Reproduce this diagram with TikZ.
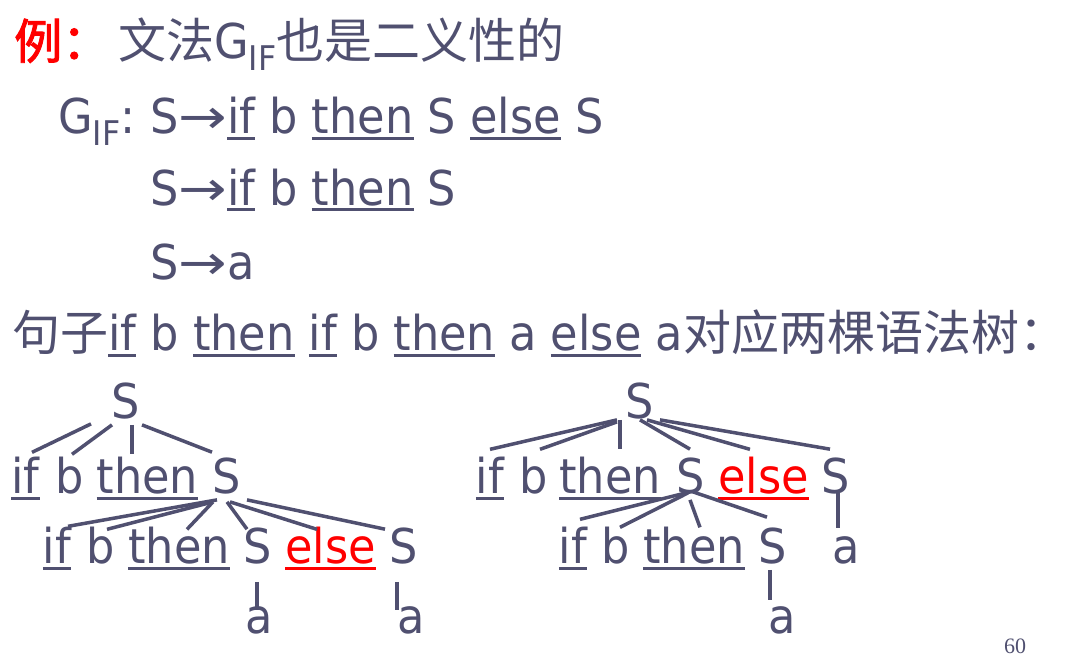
\documentclass[tikz,border=0pt]{standalone}
\usepackage{fontspec}
\usepackage{graphicx}
\setmainfont[FakeStretch=0.93]{DejaVu Sans}
\newfontfamily\cjk{Noto Sans CJK SC}
\newfontfamily\cjkbold[FakeBold=2]{Noto Sans CJK SC}
\newfontfamily\pagefont{Liberation Serif}
\definecolor{ink}{RGB}{80,80,112}
\definecolor{hilite}{RGB}{255,0,0}
\newsavebox\ulbox
\newcommand\ulw[1]{\sbox\ulbox{#1}\rlap{\rule[-6.5pt]{\wd\ulbox}{3pt}}\usebox\ulbox}
\newcommand\gsub[1]{\raisebox{-12pt}{\fontsize{34}{34}\selectfont #1}}
\newcommand\yields{\scalebox{1.3}[1]{→}}
\tikzset{
  txt/.style={anchor=base west, inner sep=0pt, text=ink, font=\fontsize{48}{58}\selectfont},
  word/.style={anchor=base, inner sep=0pt, text=ink, font=\fontsize{48}{58}\selectfont},
  branch/.style={draw=ink, line width=3.5pt},
}
\begin{document}
\begin{tikzpicture}[x=1pt, y=-1pt]
  \fill[white] (0,0) rectangle (1085,666);
  \useasboundingbox (0,0) rectangle (1085,666);

  % heading and grammar
  \node[txt, text=hilite] (ex) at (14,59) {\cjkbold 例：};
  \node[txt] (title) at (118,59) {{\cjk 文法}G\gsub{IF}{\cjk 也是二义性的}};
  \node[txt] (gname) at (58,134) {G\gsub{IF}:};
  \node[txt] (rule1) at (150,134) {S\yields\ulw{if} b \ulw{then} S \ulw{else} S};
  \node[txt] (rule2) at (150,205) {S\yields\ulw{if} b \ulw{then} S};
  \node[txt] (rule3) at (150,279) {S\yields a};
  \node[txt] (sentence) at (12,350) {{\cjk 句子}\ulw{if} b \ulw{then} \ulw{if} b \ulw{then} a \ulw{else} a{\cjk 对应两棵语法树：}};

  % left tree
  \node[word] (r1) at (126,418) {S};
  \node[word] (i1) at (25.5,493) {\ulw{if}};
  \node[word] (b1) at (69.5,493) {b};
  \node[word] (t1) at (147.5,493) {\ulw{then}};
  \node[word] (s1) at (226.5,493) {S};
  \node[word] (i2) at (57,563) {\ulw{if}};
  \node[word] (b2) at (100.5,563) {b};
  \node[word] (t2) at (179,563) {\ulw{then}};
  \node[word] (s2) at (257.5,563) {S};
  \node[word, text=hilite] (e2) at (330.5,563) {\ulw{else}};
  \node[word] (s3) at (403.5,563) {S};
  \node[word] (a1) at (259,633) {a};
  \node[word] (a2) at (411,633) {a};

  \draw[branch] ([shift={(-35,5)}]r1.south) -- ([shift={(6.5,-4)}]i1.north);
  \draw[branch] ([shift={(-14,6)}]r1.south) -- ([shift={(2.5,-2)}]b1.north);
  \draw[branch] ([shift={(6,6)}]r1.south) -- ([shift={(-15.5,-2)}]t1.north);
  \draw[branch] ([shift={(16,6)}]r1.south) -- ([shift={(-14.5,-5)}]s1.north);

  \draw[branch] ([shift={(-9.5,6)}]s1.south) -- ([shift={(11,0)}]i2.north);
  \draw[branch] ([shift={(-13.5,8)}]s1.south) -- ([shift={(6.5,3)}]b2.north);
  \draw[branch] ([shift={(-13.5,8)}]s1.south) -- ([shift={(8,3)}]t2.north);
  \draw[branch] ([shift={(0.5,8)}]s1.south) -- ([shift={(-10.5,2)}]s2.north);
  \draw[branch] ([shift={(3.5,8)}]s1.south) -- ([shift={(-13.5,3)}]e2.north);
  \draw[branch] ([shift={(20.5,6)}]s1.south) -- ([shift={(-18.5,2)}]s3.north);

  \draw[branch] ([shift={(-0.5,18)}]s2.south) -- ([shift={(-2,4)}]a1.north);
  \draw[branch] ([shift={(-6.5,18)}]s3.south) -- ([shift={(-14,4)}]a2.north);

  % right tree
  \node[word] (r2) at (640,418) {S};
  \node[word] (i3) at (490,493) {\ulw{if}};
  \node[word] (b3) at (533.5,493) {b};
  \node[word] (t3) at (610,493) {\ulw{then}};
  \node[word] (s4) at (690.5,493) {S};
  \node[word, text=hilite] (e3) at (763.5,493) {\ulw{else}};
  \node[word] (s5) at (835.5,493) {S};
  \node[word] (i4) at (573,563) {\ulw{if}};
  \node[word] (b4) at (615.5,563) {b};
  \node[word] (t4) at (694,563) {\ulw{then}};
  \node[word] (s6) at (772.5,563) {S};
  \node[word] (a3) at (846.5,563) {a};
  \node[word] (a4) at (782.5,633) {a};

  \draw[branch] ([shift={(-23,1)}]r2.south) -- ([shift={(0,-7)}]i3.north);
  \draw[branch] ([shift={(-23,3)}]r2.south) -- ([shift={(6.5,-7)}]b3.north);
  \draw[branch] ([shift={(-20,1)}]r2.south) -- ([shift={(10,-7)}]t3.north);
  \draw[branch] ([shift={(0,1)}]r2.south) -- ([shift={(-0.5,-8)}]s4.north);
  \draw[branch] ([shift={(7,1)}]r2.south) -- ([shift={(-13.5,-7)}]e3.north);
  \draw[branch] ([shift={(20,1)}]r2.south) -- ([shift={(-5.5,-8)}]s5.north);

  \draw[branch] ([shift={(-0.5,-2)}]s4.south) -- ([shift={(7,-7)}]i4.north);
  \draw[branch] ([shift={(-2.5,-1)}]s4.south) -- ([shift={(4.5,1)}]b4.north);
  \draw[branch] ([shift={(-0.5,6)}]s4.south) -- ([shift={(6,1)}]t4.north);
  \draw[branch] ([shift={(2.5,-2)}]s4.south) -- ([shift={(-5.5,-10)}]s6.north);
  \draw[branch] ([shift={(2.5,-1)}]s5.south) -- ([shift={(-8.5,-8)}]a3.north);
  \draw[branch] ([shift={(-2.5,6)}]s6.south) -- ([shift={(-12.5,-6)}]a4.north);

  % page number
  \node[anchor=base, inner sep=0pt, text=ink, font=\pagefont\fontsize{22}{22}\selectfont] (pg) at (1015,653) {60};
\end{tikzpicture}
\end{document}
